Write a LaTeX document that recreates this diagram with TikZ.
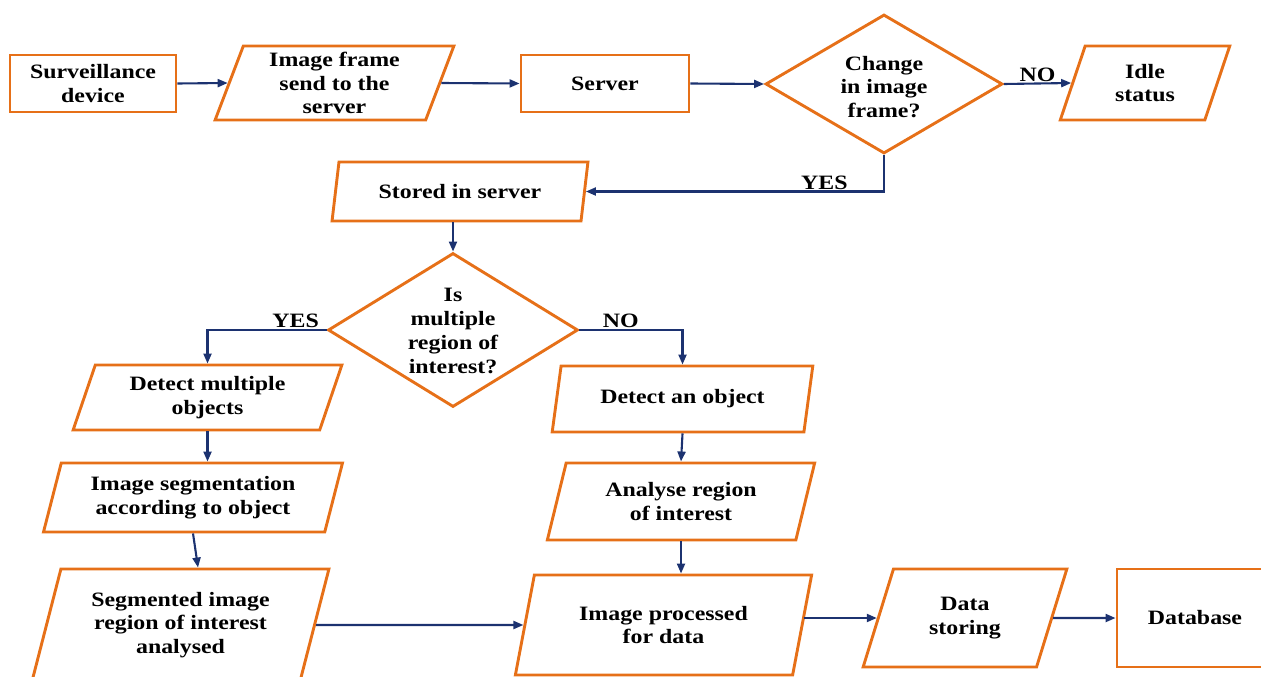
\documentclass[tikz,border=0pt]{standalone}
\usepackage{fontspec}
\newfontfamily\lblfont[FakeStretch=1.17]{Liberation Serif}
\usetikzlibrary{shapes.geometric,arrows.meta,calc}
\definecolor{ob}{RGB}{230,112,24}
\definecolor{nv}{RGB}{28,50,112}
\tikzset{
  txt/.style={inner sep=0pt, align=center, font=\lblfont\bfseries\fontsize{20.4}{23.8}\selectfont},
  base/.style={txt, draw=ob, line width=2.9pt},
  rbox/.style={base, rectangle},
  para/.style={base, trapezium, trapezium left angle=72, trapezium right angle=108, trapezium stretches=true},
  dia/.style={draw=ob, line width=2.9pt, diamond, inner sep=0pt},
  conn/.style={draw=nv, line width=2.1pt, -{Triangle[length=10pt,width=8pt]}},
  lab/.style={txt, inner sep=1pt, anchor=south}
}
\begin{document}
\begin{tikzpicture}[x=1pt,y=-1pt]
\useasboundingbox (0,0) rectangle (1261,677);
% top row
\node[rbox, minimum width=166, minimum height=57] (surv) at (93,83.5) {Surveillance\\device};
\node[para, minimum width=239, minimum height=74] (frame) at (334.5,83) {Image frame\\send to the\\server};
\node[rbox, minimum width=168, minimum height=57] (server) at (605,83.5) {Server};
\node[dia, minimum width=237, minimum height=139] (d1) at (884,84) {};
\node[txt] (d1t) at (884,87) {Change\\in image\\frame?};
\node[para, minimum width=170, minimum height=74] (idle) at (1145,83) {Idle\\status};
% second row
\node[para, minimum width=256, minimum height=59] (stored) at (460,191.5) {Stored in server};
\node[dia, minimum width=250, minimum height=154] (d2) at (453,330) {};
\node[txt] (d2t) at (453,331) {Is\\multiple\\region of\\interest?};
% left column
\node[para, trapezium left angle=70, trapezium right angle=110, minimum width=269, minimum height=65] (multi) at (207.5,397.5) {Detect multiple\\objects};
\node[para, minimum width=300, minimum height=69] (seg) at (193,497.5) {Image segmentation\\according to object};
\node[para, minimum width=297, minimum height=112] (segd) at (180.5,625) {Segmented image\\region of interest\\analysed};
% right column
\node[para, minimum width=261, minimum height=66] (det) at (682.5,399) {Detect an object};
\node[para, minimum width=268, minimum height=77] (ana) at (681,501.5) {Analyse region\\of interest};
\node[para, minimum width=297, minimum height=100] (proc) at (663.5,625) {Image processed\\for data};
\node[para, trapezium left angle=70, trapezium right angle=110, minimum width=204, minimum height=98] (dst) at (965,618) {Data\\storing};
\node[rbox, minimum width=156, minimum height=98] (db) at (1195,618) {Database};
% connectors
\draw[conn] (surv.east) -- (frame.west);
\draw[conn] (frame.east) -- (server.west);
\draw[conn] (server.east) -- (d1.west);
\draw[conn] (d1.east) -- node[lab] (lno1) {NO} (idle.west);
\draw[conn] (d1.south) |- node[lab, pos=0.6] (lyes1) {YES} (stored.east);
\draw[conn] (stored.south -| d2.north) -- (d2.north);
\draw[conn] (d2.west) -| node[lab, pos=0.13] (lyes2) {YES} (multi.north);
\draw[conn] (d2.east) -| node[lab, pos=0.2] (lno2) {NO} (det.north);
\draw[conn] (multi.south) -- (multi.south |- seg.north);
\draw[conn] (seg.south) -- ($(seg.south |- segd.north)+(5,0)$);
\draw[conn] (segd.east) -- (proc.west);
\draw[conn] (det.south) -- (ana.north);
\draw[conn] (ana.south) -- (ana.south |- proc.north);
\draw[conn] (proc.east |- dst.west) -- (dst.west);
\draw[conn] (dst.east) -- (db.west);
\end{tikzpicture}
\end{document}
